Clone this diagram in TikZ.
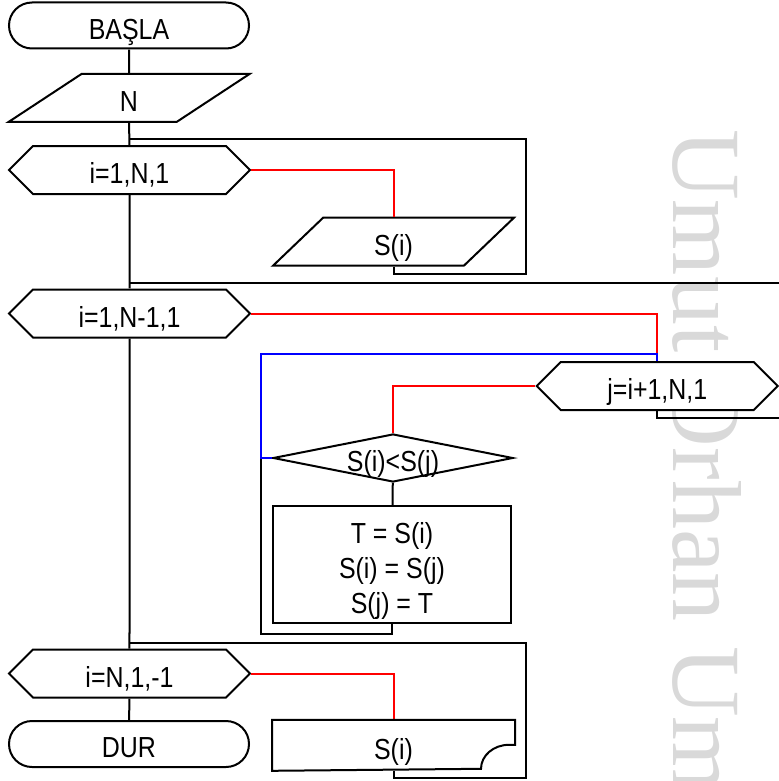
\documentclass[tikz,border=0pt]{standalone}
\usepackage{fontspec}
\setmainfont{Liberation Sans}[FakeStretch=0.86]
\newfontfamily\markfont{Liberation Serif}
\usetikzlibrary{shapes.geometric,shapes.misc,shapes.symbols}

\begin{document}
\begin{tikzpicture}[x=0.5pt,y=-0.5pt,line width=1pt,
	every node/.style={font=\fontsize{14.5}{17.5}\selectfont,inner sep=0pt,text height=13.8pt,text depth=0pt},
	term/.style={rounded rectangle,draw,fill=white,minimum width=120pt,minimum height=23pt},
	io/.style={trapezium,trapezium left angle=63.4,trapezium right angle=116.6,trapezium stretches=true,draw,fill=white,minimum width=120.5pt,minimum height=24pt},
	forloop/.style={signal,signal to=west and east,signal pointer angle=90,draw,fill=white,minimum width=120.5pt,minimum height=24pt},
	cond/.style={diamond,aspect=5,draw,fill=white,minimum width=120pt,minimum height=24pt},
	proc/.style={rectangle,draw,fill=white,minimum width=119pt,minimum height=58.5pt,align=center,text height=48.5pt,text depth=0pt},
	docbox/.style={rectangle,minimum width=120.5pt,minimum height=24.5pt},
	yes/.style={red},
	no/.style={blue},
	wmark/.style={font=\markfont\fontsize{49}{49}\selectfont,text=black!15,text height=,text depth=}]

	\useasboundingbox (0,0) rectangle (779,781);
	\clip (0,0) rectangle (779,781);

	\node[wmark,rotate=-90,anchor=base west] (wm) at (673,128) {Umut Orhan Umut};

	\node[term] (start) at (129,25.5) {BAŞLA};
	\node[io] (readn) at (129,98) {N};
	\node[forloop] (loopa) at (129.5,170) {i=1,N,1};
	\node[io] (reads) at (393.5,241.7) {S(i)};
	\node[forloop] (loopb) at (129.5,313.5) {i=1,N-1,1};
	\node[forloop] (loopc) at (657.3,386) {j=i+1,N,1};
	\node[cond] (cmp) at (393,458) {S(i)<S(j)};
	\node[proc] (swap) at (392,564.5) {T = S(i)\\S(i) = S(j)\\S(j) = T};
	\node[forloop] (loopd) at (129.5,673.5) {i=N,1,-1};
	\node[docbox] (writes) at (393.5,745.3) {S(i)};
	\node[term] (stop) at (129,744) {DUR};

	\coordinate (fa) at (525.5,138.5);
	\coordinate (fb) at (129.5,282.7);
	\coordinate (fbend) at (800,282.7);
	\coordinate (back) at (261,458);
	\coordinate (fd) at (526,642.7);

	% main column
	\draw (start) -- (readn);
	\draw (readn) -- (loopa);
	\draw (loopa) -- (loopb);
	\draw (loopb) -- (loopd);
	\draw (loopd) -- (stop);

	% read loop
	\draw[yes] (loopa.east) -| (reads.north);
	\draw (reads.south) -- ++(0,7.5) -| (fa) -- (fa -| loopa.north);

	% sort loops
	\draw (fb) -- (fbend);
	\draw[yes] (loopb.east) -| (loopc.north);
	\draw (loopc.south) -- ++(0,6.7) -- ++(200,0);
	\draw[yes] (loopc.west) -| (cmp.north);
	\draw (cmp) -- (swap);
	\draw (swap.south) -- ++(0,10) -| (back);
	\draw[no] (cmp.west) -- (back) |- ([yshift=3.5pt]loopc.north) -- (loopc.north);

	% write loop
	\draw[yes] (loopd.east) -| (writes.north);
	\draw (writes.north west) -- (writes.north east) -- ([yshift=-12.5pt]writes.north east)
		-- ++(-3pt,0) arc[start angle=90,end angle=180,x radius=14pt,y radius=12pt]
		-- (writes.south west) -- cycle;
	\draw (writes.south) -- ++(0,7) -| (fd) -- (fd -| loopd.north);

\end{tikzpicture}
\end{document}
